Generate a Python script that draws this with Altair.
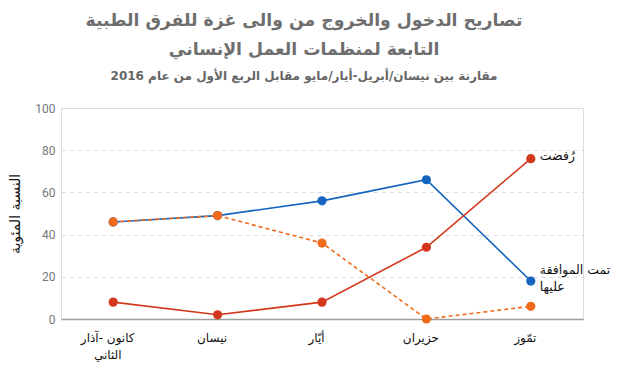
import altair as alt
import pandas as pd

months = ["كانون -آذار|الثاني", "نيسان", "أيّار", "حزيران", "تمّوز"]
series = ["approved", "rejected", "pending"]
approved = [46, 49, 56, 66, 18]
rejected = [8, 2, 8, 34, 76]
pending = [46, 49, 36, 0, 6]
colors = {"approved": "#1565c0", "rejected": "#d4381c", "pending": "#f26b1d"}
label_rejected = "رُفضت"
label_approved_1 = "تمت الموافقة"
label_approved_2 = "عليها"

title_lines = ["تصاريح الدخول والخروج من والى غزة للفرق الطبية", "التابعة لمنظمات العمل الإنساني"]
subtitle = "مقارنة بين نيسان/أبريل-أيار/مايو مقابل الربع الأول من عام 2016"
y_title = "النسبة المئوية"

rows = []
for name, vals in zip(series, [approved, rejected, pending]):
    for m, v in zip(months, vals):
        rows.append({"series": name, "month": m, "value": v})
df = pd.DataFrame(rows)

x_enc = alt.X(
    "month:N", sort=months, title=None,
    scale=alt.Scale(type="point", padding=0.5),
    axis=alt.Axis(labelExpr="split(datum.label, '|')", labelAngle=0, labelFont="DejaVu Sans",
                  labelFontSize=12, labelColor="#111", labelPadding=13, labelOffset=-6,
                  ticks=False, domain=True, domainColor="#9e9e9e", domainWidth=1.5,
                  grid=False, labelLineHeight=17),
)
y_enc = alt.Y(
    "value:Q", title=y_title,
    scale=alt.Scale(domain=[0, 100]),
    axis=alt.Axis(values=[0, 20, 40, 60, 80, 100], grid=True, gridColor="#dcdcdc", gridDash=[4, 4],
                  gridWidth=1, domain=False, ticks=False, labelFont="Roboto", labelFontSize=12,
                  labelColor="#777", labelPadding=6, titleFont="DejaVu Sans", titleFontSize=14,
                  titleFontWeight="normal", titleColor="#111", titlePadding=12),
)

def line_layer(name, dash=None):
    props = dict(color=colors[name], strokeWidth=1.6)
    if dash:
        props["strokeDash"] = dash
    return alt.Chart(df).transform_filter(alt.datum.series == name).mark_line(**props).encode(x=x_enc, y=y_enc)

def point_layer(name):
    return alt.Chart(df).transform_filter(alt.datum.series == name).mark_circle(
        color=colors[name], size=85, opacity=1).encode(x=x_enc, y=y_enc)

def end_label(name, text, dy):
    sub = df[(df["month"] == months[-1]) & (df["series"] == name)].copy()
    sub["label"] = text
    return alt.Chart(sub).mark_text(
        align="left", baseline="middle", dx=9, dy=dy, font="DejaVu Sans", fontSize=12.5,
        color="#111",
    ).encode(x=x_enc, y=y_enc, text="label:N")

chart = alt.layer(
    line_layer("approved"),
    line_layer("rejected"),
    line_layer("pending", [4, 3]),
    point_layer("approved"),
    point_layer("rejected"),
    point_layer("pending"),
    end_label("rejected", label_rejected, -3),
    end_label("approved", label_approved_1, -11),
    end_label("approved", label_approved_2, 6),
).properties(
    width=522, height=211,
    padding={"left": 0, "top": 3, "right": 5, "bottom": 5},
    title=alt.TitleParams(
        text=title_lines, subtitle=subtitle, anchor="middle", dx=-18,
        font="DejaVu Sans", fontSize=17.3, fontWeight="bold", color="#6e6e6e", lineHeight=29,
        subtitleFont="DejaVu Sans", subtitleFontSize=12, subtitleFontWeight="bold",
        subtitleColor="#666", subtitlePadding=13, offset=20,
    ),
).configure_view(stroke=None).configure(background="white")

chart.save("out.html", embed_options={"renderer": "svg", "actions": False})
